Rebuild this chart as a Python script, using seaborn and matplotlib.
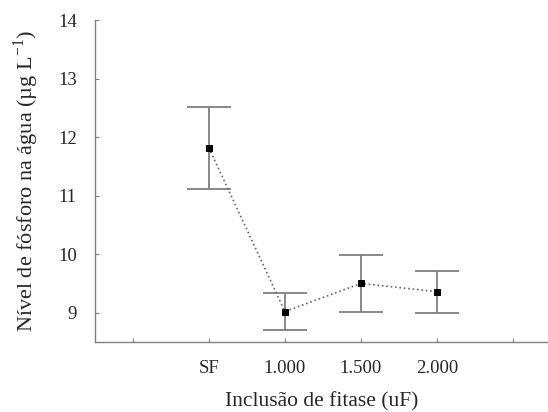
import numpy as np
import pandas as pd
import seaborn as sns
import matplotlib.pyplot as plt

# data
categories = ['SF', '1.000', '1.500', '2.000']
positions = [1, 2, 3, 4]
means = [11.82, 9.02, 9.50, 9.36]
errors = [0.70, 0.31, 0.48, 0.36]

sns.set_style('ticks')
plt.rcParams['font.family'] = ['Liberation Serif', 'DejaVu Serif']
plt.rcParams['mathtext.fontset'] = 'custom'
plt.rcParams['mathtext.rm'] = 'Liberation Serif'

df = pd.DataFrame({'x': positions, 'y': means})

fig = plt.figure(figsize=(5.48, 4.12), dpi=100)
ax = fig.add_axes([0.173, 0.17, 0.827, 0.781])

ax.errorbar(positions, means, yerr=errors, fmt='none', ecolor='#7f7f7f',
            elinewidth=1.3, capsize=15.5, capthick=1.3, zorder=1)
sns.lineplot(data=df, x='x', y='y', ax=ax, color='#6a6a6a', linestyle=':',
             linewidth=1.2, marker='s', markersize=5, markerfacecolor='black',
             markeredgecolor='black', zorder=3)

ax.set_xlim(-0.5, 5.46)
ax.set_ylim(8.5, 14)
ax.set_xticks(range(6))
ax.set_xticklabels([''] + categories + [''])
ax.set_yticks(range(9, 15))
ax.tick_params(direction='in', length=3, width=0.8, color='#7f7f7f',
               labelsize=13.5, pad=13)
for side in ['top', 'right']:
    ax.spines[side].set_visible(False)
for side in ['left', 'bottom']:
    ax.spines[side].set_color('#7f7f7f')
    ax.spines[side].set_linewidth(1.0)

ax.set_xlabel('Inclusão de fitase (uF)', fontsize=15.5, labelpad=11)
ax.set_ylabel(r'Nível de fósforo na água (µg L$^{\mathregular{-1}}$)',
              fontsize=16, labelpad=12)

fig.savefig('out.png', dpi=100)
